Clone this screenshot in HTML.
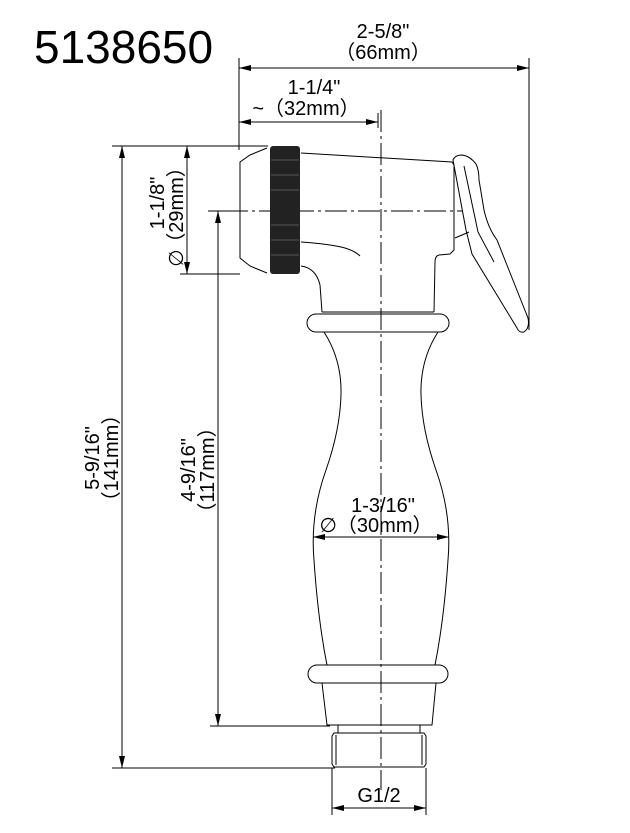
<!DOCTYPE html>
<html><head><meta charset="utf-8"><style>
html,body{margin:0;padding:0;background:#fff}
svg{display:block}
text{font-family:"Liberation Sans",Arial,sans-serif;fill:#000}
</style></head><body>
<svg width="630" height="833" viewBox="0 0 630 833" xmlns="http://www.w3.org/2000/svg">
<defs>
<marker id="a" viewBox="0 0 12 6" refX="12" refY="3" markerWidth="12" markerHeight="6" orient="auto-start-reverse" markerUnits="userSpaceOnUse"><path d="M0,0 L12,3 L0,6 z" fill="#000"/></marker>
</defs>
<text x="34" y="63" font-size="46">5138650</text>

<g stroke="#000" stroke-width="1" fill="none">
<line x1="239" y1="58" x2="239" y2="150"/>
<line x1="529" y1="58" x2="529" y2="330"/>
<line x1="378" y1="113" x2="378" y2="128"/>
<line x1="112" y1="146" x2="268" y2="146"/>
<line x1="208" y1="211" x2="226" y2="211"/>
<line x1="180" y1="274" x2="240" y2="274"/>
<line x1="210" y1="726" x2="330" y2="726"/>
<line x1="112" y1="768" x2="335" y2="768"/>
<line x1="332" y1="768" x2="332" y2="815"/>
<line x1="426" y1="768" x2="426" y2="815"/>
<line x1="239" y1="68" x2="529" y2="68" marker-start="url(#a)" marker-end="url(#a)"/>
<line x1="239" y1="122" x2="378" y2="122" marker-start="url(#a)" marker-end="url(#a)"/>
<line x1="122" y1="146" x2="122" y2="768" marker-start="url(#a)" marker-end="url(#a)"/>
<line x1="218" y1="211" x2="218" y2="726" marker-start="url(#a)" marker-end="url(#a)"/>
<line x1="187" y1="146" x2="187" y2="274" marker-start="url(#a)" marker-end="url(#a)"/>
<line x1="313" y1="537" x2="449" y2="537" marker-start="url(#a)" marker-end="url(#a)"/>
<line x1="332" y1="808" x2="426" y2="808" marker-start="url(#a)" marker-end="url(#a)"/>
<line x1="381" y1="110" x2="381" y2="790" stroke-dasharray="22,4,3,4"/>
<line x1="226" y1="211" x2="462" y2="211" stroke-dasharray="22,4,3,4"/>

<path d="M267,148 L250,155 L240,162 L240,258 L250,266 L267,273"/>
<path d="M301,153 L452,162 L454,165 L454,250 L450,254 L439,255 Q435,256 435,262 L434,312"/>
<path d="M301,266 Q316,268 320,285 L322,312"/>
<path d="M301,242 Q330,244 345,248 Q355,251 360,256"/>
<line x1="322" y1="312" x2="434" y2="312"/>
<path d="M453,160 Q455,155 462,155 Q470,156 476,164 Q479,170 479,180 L484,210 Q488,228 497,240 L528,318 Q530,328 524,332 Q519,333 517,328 L472,254 L466,230 Z" fill="#fff"/>
<path d="M464,166 L478,232 L494,262"/>
<line x1="455" y1="238" x2="469" y2="232"/>
<rect x="307" y="314" width="142" height="18" rx="9"/>
<path d="M324,332 Q342,360 341,395 Q340,430 326,470 Q310,515 314,560 Q318,620 327,665"/>
<path d="M438,332 Q420,360 421,395 Q422,430 436,470 Q452,515 448,560 Q444,620 435,665"/>
<rect x="308" y="665" width="140" height="18" rx="9"/>
<path d="M322,683 L327,725 L432,725 L436,683"/>
<rect x="338" y="725" width="82" height="8"/>
<path d="M334,733 L424,733 L426,736 L426,764 L424,767 L334,767 L332,764 L332,736 Z"/>
<line x1="336" y1="735" x2="336" y2="765"/>
<line x1="422" y1="735" x2="422" y2="765"/>
</g>
<rect x="270" y="146" width="30" height="128" rx="3" fill="#222"/>
<g stroke="#888" stroke-width="0.6">
<line x1="271" y1="160" x2="299" y2="160"/><line x1="271" y1="175" x2="299" y2="175"/>
<line x1="271" y1="190" x2="299" y2="190"/><line x1="271" y1="225" x2="299" y2="225"/>
<line x1="271" y1="240" x2="299" y2="240"/><line x1="271" y1="255" x2="299" y2="255"/>
</g>

<g font-size="20" text-anchor="middle">
<text x="383" y="38">2-5/8"</text>
<text x="383" y="59">（66mm）</text>
<text x="314" y="94">1-1/4"</text>
<text x="306" y="115">~（32mm）</text>
<text x="383" y="512">1-3/16"</text>
<text x="376" y="532">∅（30mm）</text>
<text x="379" y="802">G1/2</text>
<text transform="translate(99,458) rotate(-90)">5-9/16"</text>
<text transform="translate(118,458) rotate(-90)">（141mm）</text>
<text transform="translate(195,470) rotate(-90)">4-9/16"</text>
<text transform="translate(214,470) rotate(-90)">（117mm）</text>
<text transform="translate(164,203) rotate(-90)">1-1/8"</text>
<text transform="translate(183,205) rotate(-90)">（29mm）</text>
<text transform="translate(183,258) rotate(-90)">∅</text>
</g>
</svg>
</body></html>
